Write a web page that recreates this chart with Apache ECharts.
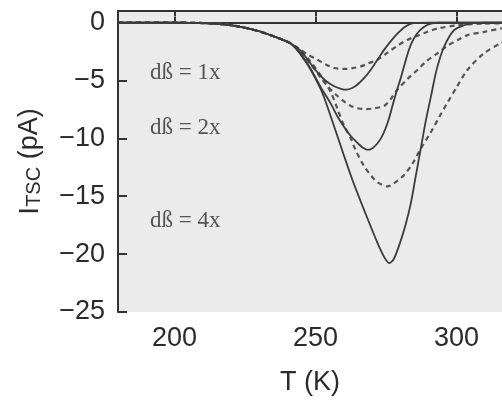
<!DOCTYPE html>
<html>
<head>
<meta charset="utf-8">
<script src="https://cdn.jsdelivr.net/npm/echarts@6/dist/echarts.min.js"></script>
<style>
html,body{margin:0;padding:0;background:#fff;}
#chart{width:502px;height:401px;}
</style>
</head>
<body>
<div id="chart"></div>
<script>
// Temperature axis ticks and current axis ticks
var xTicks = [200, 250, 300];
var yTicks = [-25, -20, -15, -10, -5, 0];
var annotations = ['dß = 1x', 'dß = 2x', 'dß = 4x'];

// Solid curves [T (K), I (pA)]
var solid1 = [[180,0],[200,0],[205,-0.02],[210,-0.04],[214,-0.08],[218,-0.17],[222,-0.3],[226,-0.5],[230,-0.75],[234,-1.08],[237.5,-1.4],[241.2,-1.8],[244.8,-2.45],[247.5,-3.3],[250.7,-4.3],[253.5,-5.0],[256.6,-5.5],[259,-5.72],[261,-5.8],[263,-5.65],[264.9,-5.35],[267.2,-4.8],[269.6,-4.07],[272,-3.2],[274.3,-2.36],[276.7,-1.6],[279.1,-0.94],[281.5,-0.4],[283.8,-0.1],[286,-0.02],[290,0],[320,0]];
var solid2 = [[180,0],[200,0],[205,-0.02],[210,-0.04],[214,-0.08],[218,-0.17],[222,-0.3],[226,-0.5],[230,-0.75],[234,-1.08],[237.5,-1.4],[241.2,-1.8],[244.8,-2.7],[248.3,-4.0],[251.9,-5.6],[255.4,-7.0],[258,-8.2],[260.1,-9.0],[262.5,-9.8],[264.9,-10.4],[266.7,-10.8],[268.4,-11.0],[270.5,-10.8],[273.2,-10.0],[275.5,-8.7],[277.5,-7.0],[278.9,-5.8],[280.2,-4.8],[282.4,-2.9],[284,-1.8],[286,-0.94],[288.4,-0.38],[290.9,-0.1],[294,0],[320,0]];
var solid3 = [[180,0],[200,0],[205,-0.02],[210,-0.04],[214,-0.08],[218,-0.17],[222,-0.3],[226,-0.5],[230,-0.75],[234,-1.08],[237.5,-1.4],[241.2,-1.8],[244.8,-2.79],[248.3,-4.07],[251.9,-5.77],[253.7,-6.9],[257.2,-9.4],[260.1,-11.5],[263.1,-13.6],[266.1,-15.5],[268.4,-16.9],[271.4,-18.7],[273.2,-19.7],[274.6,-20.35],[276.1,-20.78],[277.8,-20.4],[280.2,-18.84],[282,-17.4],[283.8,-15.6],[285.5,-13.3],[287.3,-10.9],[289,-8.6],[290.9,-6.4],[293,-4.0],[295.6,-2.08],[299.1,-0.66],[302.6,-0.23],[306,-0.05],[310,0],[320,0]];

// Dashed curves [T (K), I (pA)]
var dashed1 = [[180,0],[200,0],[205,-0.02],[210,-0.04],[214,-0.08],[218,-0.17],[222,-0.3],[226,-0.5],[230,-0.75],[234,-1.08],[237.5,-1.4],[241.2,-1.8],[244.8,-2.36],[247.5,-2.8],[250.7,-3.21],[253.5,-3.6],[256.6,-3.92],[260.7,-4.0],[263.5,-3.92],[266.1,-3.78],[269,-3.5],[272,-3.21],[275.5,-2.6],[279.1,-1.99],[282.5,-1.5],[286.2,-1.13],[289.7,-0.8],[293.3,-0.51],[300.4,-0.23],[309.8,-0.09],[320,-0.05]];
var dashed2 = [[180,0],[200,0],[205,-0.02],[210,-0.04],[214,-0.08],[218,-0.17],[222,-0.3],[226,-0.5],[230,-0.75],[234,-1.08],[237.5,-1.4],[241.2,-1.8],[244.8,-2.5],[248,-3.5],[251.9,-4.77],[254.3,-5.5],[257.8,-6.34],[260.1,-6.8],[262.5,-7.2],[265,-7.4],[267.8,-7.48],[271,-7.4],[274.3,-7.2],[276.7,-6.6],[279.1,-5.77],[282.5,-4.9],[286.2,-4.07],[289.5,-3.3],[293.3,-2.64],[296.8,-2.0],[300.4,-1.51],[303.9,-1.08],[309.8,-0.8],[315.7,-0.51],[320,-0.4]];
var dashed3 = [[180,0],[200,0],[205,-0.02],[210,-0.04],[214,-0.08],[218,-0.17],[222,-0.3],[226,-0.5],[230,-0.75],[234,-1.08],[237.5,-1.4],[241.2,-1.8],[244.8,-2.4],[248,-3.3],[251.9,-4.6],[255.4,-6.0],[258,-7.6],[260.1,-8.9],[262.5,-10.0],[264,-10.9],[267.2,-12.4],[270,-13.3],[272,-13.8],[275.5,-14.15],[277.9,-13.87],[281.4,-13.16],[284.4,-12.17],[287.3,-10.89],[290.9,-9.46],[293.8,-8.18],[296.8,-6.9],[300,-5.6],[303.9,-4.07],[309.8,-2.64],[315.7,-1.79],[320,-1.4]];

var lineColor = '#3c3c3c';
function solidSeries(d){
  return {type:'line', data:d, showSymbol:false, smooth:0.3, silent:true,
    lineStyle:{color:lineColor, width:1.8, type:'solid'}};
}
function dashedSeries(d){
  return {type:'line', data:d, showSymbol:false, smooth:0.3, silent:true,
    lineStyle:{color:'#555', width:2.2, type:[5,4]}};
}
function fmtY(v){
  if (v % 5 !== 0) return '';
  return v < 0 ? '\u2212' + Math.abs(v) : String(v);
}
var labelFont = {fontFamily:'Liberation Sans, Arial, sans-serif', fontSize:27, color:'#2b2b2b'};
var axisLine = {show:true, lineStyle:{color:'#333', width:2}};

var chart = echarts.init(document.getElementById('chart'), null, {renderer:'canvas'});
chart.setOption({
  animation:false,
  backgroundColor:'#ffffff',
  grid:{left:118, top:11, right:0, bottom:85, show:true, backgroundColor:'#ebebec', borderWidth:0},
  xAxis:[{
    type:'value', min:180, max:316.1, position:'bottom',
    name:'T (K)', nameLocation:'middle', nameGap:57,
    nameTextStyle:{fontFamily:'Liberation Sans, Arial, sans-serif', fontSize:27, color:'#2b2b2b'},
    axisLine:axisLine,
    axisTick:{show:true, inside:true, length:6, customValues:xTicks, lineStyle:{color:'#333', width:2}},
    axisLabel:Object.assign({show:true, margin:13, customValues:xTicks}, labelFont),
    splitLine:{show:false}
  },{
    type:'value', min:180, max:316.1, position:'top',
    axisLine:axisLine,
    axisTick:{show:true, inside:true, length:5, customValues:xTicks, lineStyle:{color:'#333', width:2}},
    axisLabel:{show:false},
    splitLine:{show:false}
  }],
  yAxis:{
    type:'value', min:-25, max:1, interval:5,
    name:'{i|I}{s|TSC}{n| (pA)}', nameLocation:'middle', nameGap:74, nameRotate:90,
    nameTextStyle:{
      fontFamily:'Liberation Sans, Arial, sans-serif', color:'#2b2b2b',
      rich:{
        i:{fontFamily:'Liberation Sans, Arial, sans-serif', fontSize:28, color:'#2b2b2b', lineHeight:28, verticalAlign:'top'},
        s:{fontFamily:'Liberation Sans, Arial, sans-serif', fontSize:20, color:'#2b2b2b', lineHeight:20, padding:[14,0,0,0], verticalAlign:'bottom'},
        n:{fontFamily:'Liberation Sans, Arial, sans-serif', fontSize:27, color:'#2b2b2b', lineHeight:28, verticalAlign:'top'}
      }
    },
    axisLine:axisLine,
    axisTick:{show:true, inside:true, length:9, lineStyle:{color:'#333', width:2}},
    axisLabel:Object.assign({show:true, margin:13, formatter:fmtY, customValues:yTicks}, labelFont),
    splitLine:{show:false}
  },
  graphic:[
    {type:'text', left:150, top:61, style:{text:annotations[0], font:'23px "Liberation Serif", "Times New Roman", serif', fill:'#555'}},
    {type:'text', left:150, top:116, style:{text:annotations[1], font:'23px "Liberation Serif", "Times New Roman", serif', fill:'#555'}},
    {type:'text', left:150, top:209, style:{text:annotations[2], font:'23px "Liberation Serif", "Times New Roman", serif', fill:'#555'}}
  ],
  series:[
    dashedSeries(dashed1), dashedSeries(dashed2), dashedSeries(dashed3),
    solidSeries(solid1), solidSeries(solid2), solidSeries(solid3)
  ]
});
</script>
</body>
</html>
